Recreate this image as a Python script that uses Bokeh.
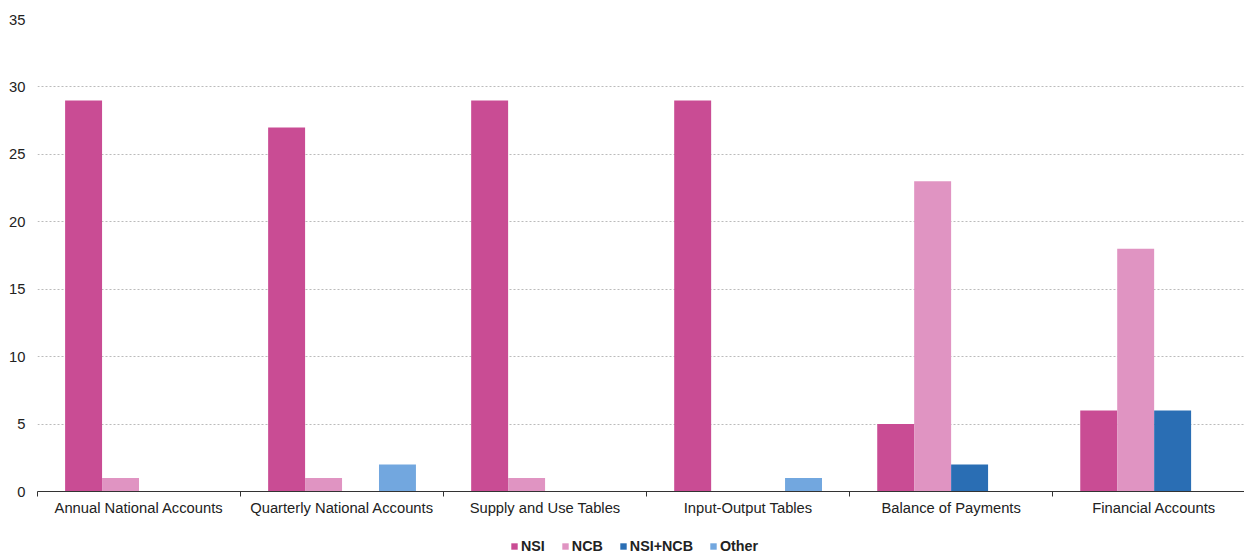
from bokeh.plotting import figure
from bokeh.layouts import column
from bokeh.models import (ColumnDataSource, FixedTicker, Range1d, Legend, LegendItem)
from bokeh.embed import file_html
from bokeh.resources import INLINE

categories = ["Annual National Accounts", "Quarterly National Accounts",
              "Supply and Use Tables", "Input-Output Tables",
              "Balance of Payments", "Financial Accounts"]
series_names = ["NSI", "NCB", "NSI+NCB", "Other"]
nsi = [29, 27, 29, 29, 5, 6]
ncb = [1, 1, 1, 0, 23, 18]
nsi_ncb = [0, 0, 0, 0, 2, 6]
other = [0, 2, 0, 1, 0, 0]
colors = ["#C94C94", "#E094C2", "#2A6EB4", "#72A7DF"]
y_ticks = [0, 5, 10, 15, 20, 25, 30, 35]

FONT = "Liberation Sans"

p = figure(width=1244, height=520, output_backend="svg", toolbar_location=None,
           x_range=Range1d(0, 5.945), y_range=Range1d(0, 35))
p.min_border_left = 37
p.min_border_right = 0
p.min_border_top = 19
p.min_border_bottom = 29
p.outline_line_color = None
p.background_fill_color = "white"
p.border_fill_color = "white"

bar_w = 0.182
offsets = [-1.5 * bar_w, -0.5 * bar_w, 0.5 * bar_w, 1.5 * bar_w]
for vals, col, off in zip([nsi, ncb, nsi_ncb, other], colors, offsets):
    src = ColumnDataSource(dict(x=[i + 0.5 + off for i in range(len(categories))], top=vals))
    p.vbar(x="x", top="top", width=bar_w, source=src, fill_color=col, line_color=None)

# x axis: labels at category centres, tick marks at category boundaries
xa = p.xaxis[0]
xa.ticker = FixedTicker(ticks=[i + 0.5 for i in range(len(categories))],
                        minor_ticks=list(range(len(categories) + 1)))
xa.major_label_overrides = {i + 0.5: c for i, c in enumerate(categories)}
xa.major_tick_line_color = None
xa.major_tick_in = 0
xa.major_tick_out = 0
xa.minor_tick_in = 0
xa.minor_tick_out = 5
xa.minor_tick_line_color = "#333333"
xa.axis_line_color = "#333333"
xa.axis_line_width = 1
xa.major_label_text_font = FONT
xa.major_label_text_font_size = "14.75px"
xa.major_label_text_color = "#222222"
xa.major_label_standoff = 3

ya = p.yaxis[0]
ya.ticker = FixedTicker(ticks=y_ticks)
ya.axis_line_color = None
ya.major_tick_line_color = None
ya.minor_tick_line_color = None
ya.major_tick_in = 0
ya.major_tick_out = 0
ya.major_label_text_font = FONT
ya.major_label_text_font_size = "14.75px"
ya.major_label_text_color = "#222222"
ya.major_label_standoff = 12

p.xgrid.grid_line_color = None
p.ygrid.grid_line_color = "#BBBBBB"
p.ygrid.grid_line_dash = "2 2"
p.ygrid.grid_line_width = 1

# legend strip underneath the chart; its swatch glyphs sit outside the visible range
lg = figure(width=1244, height=34, output_backend="svg", toolbar_location=None,
            x_range=Range1d(0, 1), y_range=Range1d(0, 1),
            x_axis_location=None, y_axis_location=None)
lg.grid.visible = False
lg.outline_line_color = None
lg.min_border = 0
items = []
for name, col in zip(series_names, colors):
    r = lg.vbar(x=[-5], top=[-5], width=0.1, fill_color=col, line_color=None)
    items.append(LegendItem(label=name, renderers=[r]))

legend = Legend(items=items, orientation="horizontal", location=(473, 0),
                label_text_font=FONT, label_text_font_size="14.3px",
                label_text_font_style="bold", label_text_color="#222222",
                glyph_width=8, glyph_height=8, spacing=16, label_standoff=3,
                border_line_color=None, background_fill_alpha=0,
                padding=0, margin=0)
lg.add_layout(legend, "center")

open("out.html", "w").write(file_html(column(p, lg, spacing=0), INLINE))
